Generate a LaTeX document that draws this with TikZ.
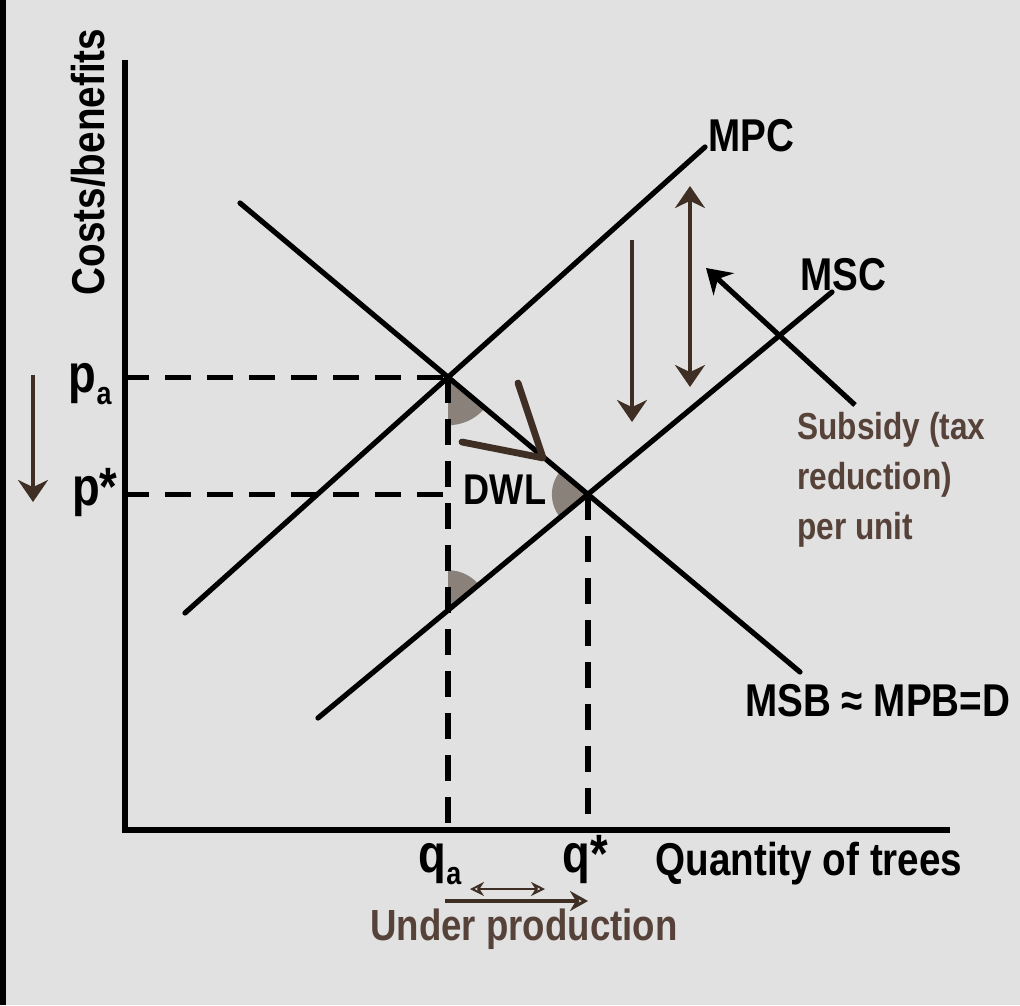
\documentclass[tikz,border=0pt]{standalone}
\usepackage{fontspec}
\setmainfont{Liberation Sans}[FakeStretch=0.84]
\usepackage{tikz}
\usetikzlibrary{
  arrows.meta,  % Stealth arrow tips
  positioning   % relative placement
}
\definecolor{paper}{RGB}{225,225,225}
\definecolor{inkbrown}{RGB}{62,46,36}
\definecolor{notebrown}{RGB}{86,66,56}
\definecolor{dwlgray}{RGB}{138,130,122}
\tikzset{
  curve/.style={
    line width=2.6pt,
    line cap=round
  },
  guide/.style={
    line width=2.6pt,
    dash pattern=on 13pt off 8pt
  },
  shift arrow/.style={
    -{Stealth[length=11pt,width=15pt]},
    line width=1.8pt,
    color=inkbrown
  },
  lbl/.style={
    font=\bfseries\fontsize{23}{27}\selectfont,
    inner sep=0pt
  },
  note/.style={
    font=\bfseries\fontsize{18.8}{25}\selectfont,
    color=notebrown,
    inner sep=0pt
  }
}
\newcommand{\lowsub}[1]{\raisebox{-0.45ex}{\fontsize{16}{16}\selectfont #1}}

\begin{document}
\begin{tikzpicture}[>=Stealth, x=0.5pt, y=-0.5pt]
  \useasboundingbox (0,0) rectangle (1020,1005);
  \fill[paper] (0,0) rectangle (1020,1005);
  \draw[line width=4pt] (2,0) -- (2,1005);

  % 1. axes
  \coordinate (O) at (123,830);
  \coordinate (ytop) at (125,60);
  \coordinate (xend) at (950,830);
  \draw[line width=2.6pt] (ytop) -- (125,830) -- (xend);

  % 2. the three curves
  \coordinate (mpc1) at (185,613);  \coordinate (mpc2) at (705,147);
  \coordinate (msc1) at (318,718);  \coordinate (msc2) at (832,292);
  \coordinate (msb1) at (240,203);  \coordinate (msb2) at (800,672);
  \coordinate (A) at (intersection of mpc1--mpc2 and msb1--msb2);
  \coordinate (E) at (intersection of msc1--msc2 and msb1--msb2);
  \coordinate (qa) at (A |- O);
  \coordinate (qs) at (E |- O);
  \coordinate (B) at (intersection of msc1--msc2 and A--qa);
  \coordinate (pa) at (O |- A);
  \coordinate (ps) at (O |- E);
  \coordinate (psend) at (A |- E);

  % DWL triangle, shaded only in its corners
  \begin{scope}
    \clip (A) -- (B) -- (E) -- cycle;
    \fill[dwlgray] (A) circle (48);
    \fill[dwlgray] (E) circle (36);
    \fill[dwlgray] (B) circle (40);
  \end{scope}

  \draw[curve] (mpc1) -- (mpc2);
  \draw[curve] (msc1) -- (msc2);
  \draw[curve] (msb1) -- (msb2);

  % 3. dashed guides
  \draw[guide] (pa) -- (A);
  \draw[guide] (ps) -- (psend);
  \draw[guide] (A) -- (qa);
  \draw[guide] (E) -- (qs);

  % 4. labels
  \node[lbl, rotate=90] (ylab) at (88,162) {Costs/benefits};
  \node[lbl, font=\bfseries\fontsize{27}{27}\selectfont, anchor=base east] (plab) at (112,392) {p\lowsub{a}};
  \node[lbl, font=\bfseries\fontsize{27}{27}\selectfont, anchor=base east] (pslab) at (118,505) {p*};
  \node[lbl, font=\bfseries\fontsize{27}{27}\selectfont, anchor=base] (qlab) at (440,872) {q\lowsub{a}};
  \node[lbl, font=\bfseries\fontsize{27}{27}\selectfont, anchor=base] (qslab) at (585,872) {q*};
  \node[lbl, anchor=base west] (xlab) at (655,875) {Quantity of trees};
  \node[lbl, anchor=base west] (mpclab) at (708,152) {MPC};
  \node[lbl, anchor=base west] (msclab) at (800,290) {MSC};
  \node[lbl, font=\bfseries\fontsize{21.5}{21.5}\selectfont] (dwl) at (505,490) {DWL};
  \node[lbl, anchor=base west] (msblab) at (745,716) {MSB \char"2248{} MPB=D};
  \node[note, align=left, anchor=north west] (subsidy) at (797,412)
    {Subsidy (tax\\reduction)\\per unit};
  \node[note, font=\bfseries\fontsize{21.8}{21.8}\selectfont, anchor=base] (under) at (524,940) {Under production};

  % 5. arrows
  \coordinate (pdrop1) at (33,375);  \coordinate (pdrop2) at (33,502);
  \draw[shift arrow] (pdrop1) -- (pdrop2);
  \coordinate (down1) at (632,240);  \coordinate (down2) at (632,422);
  \draw[shift arrow] (down1) -- (down2);
  \coordinate (sub1) at (690,186);   \coordinate (sub2) at (690,387);
  \draw[shift arrow, {Stealth[length=11pt,width=15pt]}-{Stealth[length=11pt,width=15pt]}] (sub1) -- (sub2);
  \coordinate (ptr1) at (855,405);   \coordinate (ptr2) at (706,268);
  \draw[-{Stealth[length=12pt,width=15pt]}, line width=2.6pt] (ptr1) -- (ptr2);

  % movement along demand
  \coordinate (mv1) at (518,383);
  \coordinate (mv2) at (462,442);
  \coordinate (mvtip) at (543,458);
  \draw[inkbrown, line width=3.4pt, line cap=round, line join=round] (mv1) -- (mvtip) -- (mv2);

  % under production
  \coordinate (up1) at (470,889);   \coordinate (up2) at (545,889);
  \draw[inkbrown, line width=1pt, {Stealth[length=7pt,width=7pt,open]}-{Stealth[length=7pt,width=7pt,open]}] (up1) -- (up2);
  \coordinate (low1) at (445,901);  \coordinate (low2) at (588,901);
  \draw[inkbrown, line width=2.2pt, -{Stealth[length=9pt,width=10pt,open]}] (low1) -- (low2);

\end{tikzpicture}
\end{document}
